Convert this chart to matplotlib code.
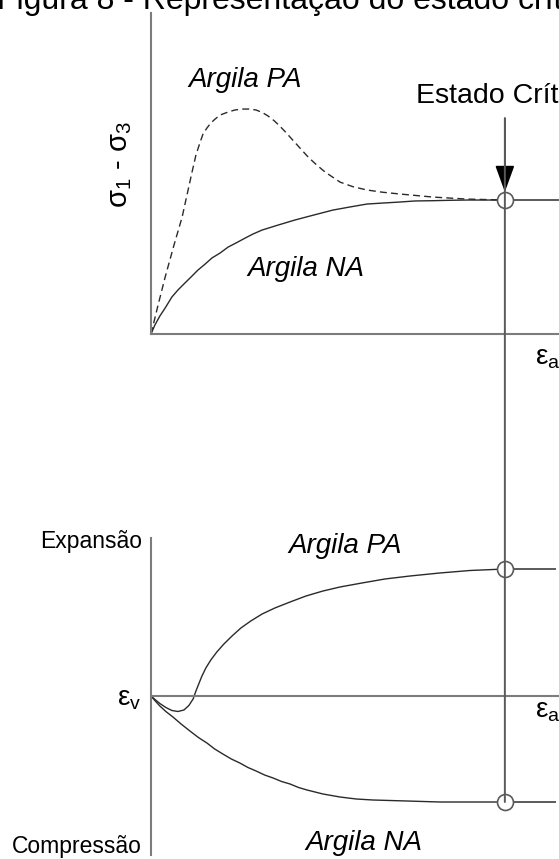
import matplotlib
matplotlib.use("Agg")
import matplotlib.pyplot as plt
from matplotlib.patches import ConnectionPatch

plt.rcParams['font.family'] = ['Liberation Sans', 'DejaVu Sans']
plt.rcParams['mathtext.fontset'] = 'custom'
plt.rcParams['mathtext.rm'] = 'Liberation Sans'
plt.rcParams['mathtext.it'] = 'Liberation Sans:italic'

# Curvas tensão-deformação (deformação axial em %, tensão desviadora em kPa)
eps_pa = [0, 0.20, 0.40, 0.65, 0.88, 1.16, 1.27, 1.38, 1.47, 1.58, 1.69, 1.81,
          1.95, 2.18, 2.37, 2.57, 2.77, 2.97, 3.14, 3.31, 3.48, 3.64, 3.81, 3.98,
          4.21, 4.44, 4.68, 4.92, 5.34, 5.70, 6.10, 6.55, 7.03, 7.97, 8.93, 10.0]
q_pa = [0, 21.6, 42.5, 66.4, 87.3, 120.9, 133.6, 142.5, 149.3, 153.7, 157.5, 160.4,
        163.4, 165.7, 167.2, 167.9, 167.9, 167.2, 165.4, 162.7, 159.2, 155.2, 150.5,
        145.5, 138.8, 132.1, 126.2, 120.9, 113.4, 110.0, 107.5, 105.8, 104.5, 102.2,
        100.7, 100.0]

eps_na = [0, 0.11, 0.25, 0.40, 0.59, 0.76, 0.96, 1.13, 1.33, 1.53, 1.72, 1.95,
          2.18, 2.40, 2.66, 2.88, 3.14, 3.59, 4.07, 4.60, 5.14, 5.62, 6.10, 6.58,
          7.03, 7.46, 7.97, 8.45, 8.93, 10.0]
q_na = [0, 6.7, 13.4, 19.4, 27.6, 32.8, 38.1, 42.5, 47.8, 52.2, 56.7, 60.4,
        64.9, 67.9, 71.6, 74.6, 77.6, 81.3, 85.1, 88.8, 92.5, 94.8, 97.0, 97.8,
        98.5, 99.3, 99.5, 99.8, 100.0, 100.0]

# Curvas de deformação volumétrica (%)
eps_pa_v = [0, 0.08, 0.25, 0.42, 0.59, 0.76, 0.93, 1.07, 1.19, 1.27, 1.36, 1.44,
            1.55, 1.69, 1.86, 2.06, 2.29, 2.54, 2.82, 3.14, 3.50, 3.93, 4.38,
            4.86, 5.34, 5.96, 6.61, 7.32, 8.16, 9.01, 10.0]
ev_pa = [0, -0.05, -0.15, -0.23, -0.29, -0.31, -0.28, -0.19, -0.06, 0.10, 0.26, 0.40,
         0.56, 0.72, 0.88, 1.04, 1.20, 1.36, 1.50, 1.64, 1.76, 1.88, 2.00,
         2.10, 2.18, 2.26, 2.34, 2.40, 2.46, 2.51, 2.54]

eps_na_v = [0, 0.12, 0.25, 0.42, 0.62, 0.85, 1.10, 1.34, 1.58, 1.80, 2.03, 2.27,
            2.51, 2.74, 2.97, 3.21, 3.45, 3.69, 3.93, 4.17, 4.41, 4.86, 5.34,
            5.80, 6.27, 6.75, 7.23, 8.16, 9.10, 10.0]
ev_na = [0, -0.10, -0.20, -0.31, -0.42, -0.56, -0.70, -0.83, -0.94, -1.06, -1.16,
         -1.26, -1.34, -1.43, -1.50, -1.58, -1.64, -1.71, -1.76, -1.83, -1.88,
         -1.96, -2.02, -2.06, -2.08, -2.09, -2.10, -2.12, -2.12, -2.12]

# Estado crítico
eps_crit = 10.0
q_crit = 100.0
ev_crit = [2.54, -2.12]
eps_max = 11.53

W, H = 559, 859
axis_gray = '#7c7c7c'
line_gray = '#5a5a5a'
curve = '#2a2a2a'


def box(left, top, right, bottom):
    return [left / W, 1 - bottom / H, (right - left) / W, (bottom - top) / H]


def ftext(x, y, s, **kw):
    fig.text(x / W, 1 - y / H, s, **kw)


fig = plt.figure(figsize=(W / 100, H / 100), dpi=100)

ax1 = fig.add_axes(box(151, 13, 559, 334))
ax1.set_xlim(0, eps_max)
ax1.set_ylim(0, 239.6)

ax2 = fig.add_axes(box(151, 538, 559, 855))
ax2.set_xlim(0, eps_max)
ax2.set_ylim(-3.18, 3.16)

for ax in (ax1, ax2):
    ax.patch.set_visible(False)
    for side in ('top', 'right'):
        ax.spines[side].set_visible(False)
    for side in ('left', 'bottom'):
        ax.spines[side].set_color(axis_gray)
        ax.spines[side].set_linewidth(1.5)
    ax.set_xticks([])
    ax.set_yticks([])
ax2.spines['bottom'].set_position(('data', 0))

# tensão x deformação
ax1.plot(eps_pa, q_pa, color=curve, lw=1.0, dashes=(5, 3))
ax1.plot(eps_na, q_na, color=curve, lw=1.0)
ax1.plot([eps_crit, eps_max], [q_crit, q_crit], color=line_gray, lw=1.4, clip_on=False)
ax1.plot([eps_crit], [q_crit], 'o', ms=11.5, mfc='white', mec=line_gray, mew=1.2,
         zorder=3)

# deformação volumétrica
ax2.plot(eps_pa_v, ev_pa, color=curve, lw=1.0)
ax2.plot(eps_na_v, ev_na, color=curve, lw=1.0)
for ev in ev_crit:
    ax2.plot([eps_crit, 11.41], [ev, ev], color=line_gray, lw=1.4)
    ax2.plot([eps_crit], [ev], 'o', ms=11.5, mfc='white', mec=line_gray, mew=1.2,
             zorder=3)

# linha vertical do estado crítico ligando os dois gráficos
con = ConnectionPatch(xyA=(eps_crit, 161), coordsA=ax1.transData,
                      xyB=(eps_crit, ev_crit[1]), coordsB=ax2.transData,
                      color=line_gray, lw=1.4, zorder=4)
fig.add_artist(con)
ax1.annotate('', xy=(eps_crit, 106), xytext=(eps_crit, 161),
             arrowprops=dict(arrowstyle='-|>,head_length=1.1,head_width=0.4',
                             mutation_scale=15, color='black', lw=1.2,
                             shrinkA=0, shrinkB=0),
             annotation_clip=False, zorder=5)

# textos
ftext(-3, 9, 'Figura 8 - Representação do estado crítico', fontsize=23,
      va='baseline')
ftext(416, 103, 'Estado Crítico', fontsize=20.5, va='baseline')
ftext(120, 164, r'$\mathregular{σ_1}$ - $\mathregular{σ_3}$', fontsize=21,
      rotation=90, ha='center', va='center')
ftext(188, 87, 'Argila PA', fontsize=20, style='italic', va='baseline')
ftext(247, 276, 'Argila NA', fontsize=20, style='italic', va='baseline')
ftext(535, 364, r'$\mathregular{ε_a}$', fontsize=20, va='baseline')

ftext(142, 548, 'Expansão', fontsize=16.5, ha='right', va='baseline')
ftext(142, 853, 'Compressão', fontsize=16.5, ha='right', va='baseline')
ftext(117, 706, r'$\mathregular{ε_v}$', fontsize=20, va='baseline')
ftext(535, 718, r'$\mathregular{ε_a}$', fontsize=20, va='baseline')
ftext(288, 553, 'Argila PA', fontsize=20, style='italic', va='baseline')
ftext(305, 850, 'Argila NA', fontsize=20, style='italic', va='baseline')

fig.savefig('out.png', dpi=100)
